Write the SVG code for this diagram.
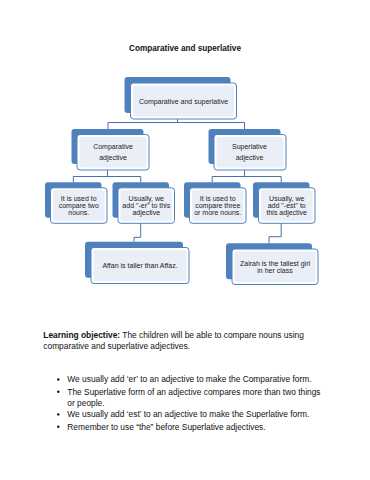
<svg xmlns="http://www.w3.org/2000/svg" width="370" height="480" viewBox="0 0 370 480">
<style>
.back{fill:#4F81BD;}
.front{fill:#FFFFFF;stroke:#4F81BD;stroke-width:1;}
.inner{fill:#E9EEF7;}
.nt{font-family:"Liberation Sans",Arial,sans-serif;font-size:7px;fill:#222;text-anchor:middle;}
.conn{fill:none;stroke:#4673AA;stroke-width:1;}
.body{font-family:"Liberation Sans",Arial,sans-serif;font-size:8.4px;fill:#111;}
</style>
<rect width="370" height="480" fill="#FFFFFF"/>
<text x="185" y="51" font-family="Liberation Sans, Arial, sans-serif" font-size="8.2" font-weight="bold" text-anchor="middle" fill="#111">Comparative and superlative</text>

<g id="connectors">
<path class="conn" d="M177.5,119 V122.5 M108,122.5 H244.5 M108,122.5 V129 M244.5,122.5 V129"/>
<path class="conn" d="M107.5,170 V176.5 M73.3,176.5 H140.7 M73.3,176.5 V182.3 M140.7,176.5 V182.3"/>
<path class="conn" d="M244.5,170 V176.5 M212.2,176.5 H281.2 M212.2,176.5 V182.3 M281.2,176.5 V182.3"/>
<path class="conn" d="M140.7,223.3 V237.3 H134 V241.7"/>
<path class="conn" d="M281.2,223.3 V236.7 H269 V243.3"/>
</g>

<g id="n_top">
<rect class="back" x="124.5" y="77" width="106" height="36" rx="3"/>
<rect class="front" x="130.5" y="83" width="106" height="36" rx="3"/>
<rect class="inner" x="133" y="85.5" width="101" height="31" rx="2"/>
<text class="nt" x="183.5" y="103.5">Comparative and superlative</text>
</g>

<g id="n_comp">
<rect class="back" x="71.5" y="129" width="72" height="35" rx="3"/>
<rect class="front" x="77" y="134.5" width="72" height="35.5" rx="3"/>
<rect class="inner" x="79.5" y="137" width="67" height="30.5" rx="2"/>
<text class="nt" x="113" y="149.2">Comparative</text>
<text class="nt" x="113" y="159.8">adjective</text>
</g>

<g id="n_sup">
<rect class="back" x="208.5" y="129" width="72" height="35" rx="3"/>
<rect class="front" x="214" y="134.5" width="72" height="35.5" rx="3"/>
<rect class="inner" x="216.5" y="137" width="67" height="30.5" rx="2"/>
<text class="nt" x="249.5" y="149.2">Superlative</text>
<text class="nt" x="249.5" y="159.8">adjective</text>
</g>

<g id="n_c1">
<rect class="back" x="45" y="182.3" width="56.5" height="35.5" rx="3"/>
<rect class="front" x="50.5" y="187.8" width="56.5" height="35.5" rx="3"/>
<rect class="inner" x="53" y="190.3" width="51.5" height="30.5" rx="2"/>
<text class="nt" x="78.75" y="200.7">It is used to</text>
<text class="nt" x="78.75" y="208">compare two</text>
<text class="nt" x="78.75" y="215.2">nouns.</text>
</g>

<g id="n_c2">
<rect class="back" x="112.5" y="182.3" width="56.5" height="35.5" rx="3"/>
<rect class="front" x="118" y="187.8" width="56.5" height="35.5" rx="3"/>
<rect class="inner" x="120.5" y="190.3" width="51.5" height="30.5" rx="2"/>
<text class="nt" x="146.25" y="200.7">Usually, we</text>
<text class="nt" x="146.25" y="208">add "-er" to this</text>
<text class="nt" x="146.25" y="215.2">adjective</text>
</g>

<g id="n_s1">
<rect class="back" x="184" y="182.3" width="56.5" height="35.5" rx="3"/>
<rect class="front" x="189.5" y="187.8" width="56.5" height="35.5" rx="3"/>
<rect class="inner" x="192" y="190.3" width="51.5" height="30.5" rx="2"/>
<text class="nt" x="217.75" y="200.7">It is used to</text>
<text class="nt" x="217.75" y="208">compare three</text>
<text class="nt" x="217.75" y="215.2">or more nouns.</text>
</g>

<g id="n_s2">
<rect class="back" x="253" y="182.3" width="56.5" height="35.5" rx="3"/>
<rect class="front" x="258.5" y="187.8" width="56.5" height="35.5" rx="3"/>
<rect class="inner" x="261" y="190.3" width="51.5" height="30.5" rx="2"/>
<text class="nt" x="286.75" y="200.7">Usually, we</text>
<text class="nt" x="286.75" y="208">add "-est" to</text>
<text class="nt" x="286.75" y="215.2">this adjective</text>
</g>

<g id="n_ex1">
<rect class="back" x="85" y="241.7" width="98" height="36" rx="3"/>
<rect class="front" x="91" y="247.5" width="98" height="36" rx="3"/>
<rect class="inner" x="93.5" y="250" width="93" height="31" rx="2"/>
<text class="nt" x="140" y="267.8">Affan is taller than Affaz.</text>
</g>

<g id="n_ex2">
<rect class="back" x="226" y="243.3" width="86" height="36" rx="3"/>
<rect class="front" x="232" y="249" width="86" height="35.5" rx="3"/>
<rect class="inner" x="234.5" y="251.5" width="81" height="30.5" rx="2"/>
<text class="nt" x="275" y="265.8">Zairah is the tallest girl</text>
<text class="nt" x="275" y="273.2">in her class</text>
</g>

<text class="body" x="43.3" y="337.5"><tspan font-weight="bold">Learning objective:</tspan> The children will be able to compare nouns using</text>
<text class="body" x="43.3" y="348.5">comparative and superlative adjectives.</text>

<g fill="#111">
<circle cx="58.3" cy="379.5" r="1.2"/>
<circle cx="58.3" cy="391.8" r="1.2"/>
<circle cx="58.3" cy="414.4" r="1.2"/>
<circle cx="58.3" cy="426.8" r="1.2"/>
</g>
<text class="body" x="67.3" y="382.3">We usually add ‘er’ to an adjective to make the Comparative form.</text>
<text class="body" x="67.3" y="394.6">The Superlative form of an adjective compares more than two things</text>
<text class="body" x="67.3" y="405.6">or people.</text>
<text class="body" x="67.3" y="417.2">We usually add ‘est’ to an adjective to make the Superlative form.</text>
<text class="body" x="67.3" y="429.6">Remember to use “the” before Superlative adjectives.</text>
</svg>
